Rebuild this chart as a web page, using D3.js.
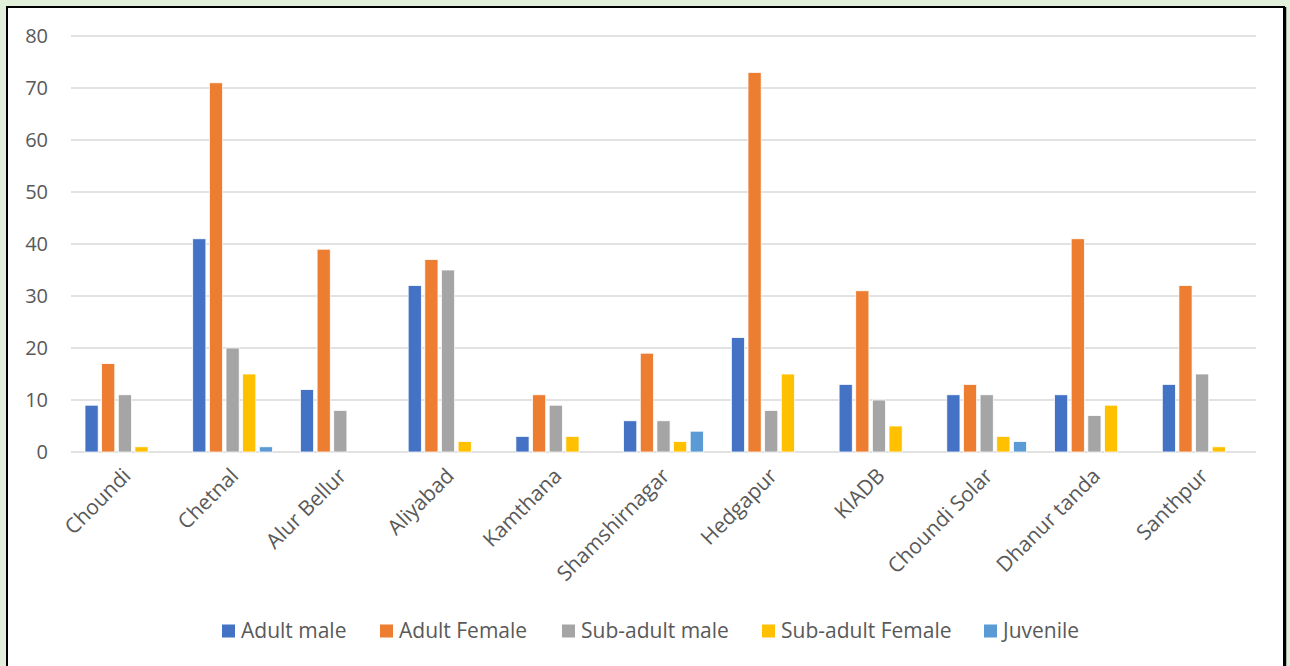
<!DOCTYPE html>
<html>
<head>
<script src="https://cdnjs.cloudflare.com/ajax/libs/d3/7.8.5/d3.min.js"></script>
<style>
  body { margin: 0; background: #e2efda; }
  text { font-family: "Open Sans", sans-serif; fill: #595959; }
</style>
</head>
<body>
<svg id="chart" width="1290" height="666"></svg>
<script>
var sites = ["Choundi", "Chetnal", "Alur Bellur", "Aliyabad", "Kamthana", "Shamshirnagar", "Hedgapur", "KIADB", "Choundi Solar", "Dhanur tanda", "Santhpur"];
var seriesNames = ["Adult male", "Adult Female", "Sub-adult male", "Sub-adult Female", "Juvenile"];
var adultMale = [9, 41, 12, 32, 3, 6, 22, 13, 11, 11, 13];
var adultFemale = [17, 71, 39, 37, 11, 19, 73, 31, 13, 41, 32];
var subAdultMale = [11, 20, 8, 35, 9, 6, 8, 10, 11, 7, 15];
var subAdultFemale = [1, 15, 0, 2, 3, 2, 15, 5, 3, 9, 1];
var juvenile = [0, 1, 0, 0, 0, 4, 0, 0, 2, 0, 0];
var yTicks = [0, 10, 20, 30, 40, 50, 60, 70, 80];
var colors = ["#4472c4", "#ed7d31", "#a5a5a5", "#ffc000", "#5b9bd5"];

var seriesValues = [adultMale, adultFemale, subAdultMale, subAdultFemale, juvenile];

var svg = d3.select("#chart");

// white frame
svg.append("rect").attr("x", 7).attr("y", 7).attr("width", 1277).attr("height", 670)
  .attr("fill", "white").attr("stroke", "black").attr("stroke-width", 2);
svg.append("line").attr("x1", 1285.5).attr("y1", 7).attr("x2", 1285.5).attr("y2", 666)
  .attr("stroke", "black").attr("stroke-width", 1.5);

var plotLeft = 71, plotRight = 1256, plotTop = 36, plotBottom = 452;

var x = d3.scaleBand().domain(sites).range([plotLeft, plotRight]);
var x1 = d3.scaleBand().domain(seriesNames).range([14, x.bandwidth() - 14]).paddingInner(0.21);
var y = d3.scaleLinear().domain([0, 80]).range([plotBottom, plotTop]);

// gridlines
svg.append("g").selectAll("line").data(yTicks).enter().append("line")
  .attr("x1", plotLeft).attr("x2", plotRight)
  .attr("y1", function(d) { return y(d); }).attr("y2", function(d) { return y(d); })
  .attr("stroke", "#d9d9d9").attr("stroke-width", 1.5);

// y labels
svg.append("g").selectAll("text").data(yTicks).enter().append("text")
  .attr("x", 48).attr("y", function(d) { return y(d); })
  .attr("dy", "0.36em").attr("text-anchor", "end")
  .attr("font-size", 20).text(function(d) { return d; });

// bars
var groups = svg.append("g").selectAll("g").data(sites).enter().append("g")
  .attr("transform", function(d) { return "translate(" + x(d) + ",0)"; });

groups.selectAll("rect").data(function(site, i) {
    return seriesNames.map(function(s, j) { return { s: s, v: seriesValues[j][i], c: colors[j] }; });
  }).enter().append("rect")
  .attr("x", function(d) { return x1(d.s); })
  .attr("width", x1.bandwidth())
  .attr("y", function(d) { return y(d.v); })
  .attr("height", function(d) { return plotBottom - y(d.v); })
  .attr("fill", function(d) { return d.c; })
  .attr("stroke", "white").attr("stroke-width", 0.75);

// x labels
svg.append("g").selectAll("text").data(sites).enter().append("text")
  .attr("transform", function(d) { return "translate(" + (x(d) + x.bandwidth() / 2 + 2) + ",472) rotate(-45)"; })
  .attr("text-anchor", "end").attr("dy", "0.35em")
  .attr("font-size", 21).text(function(d) { return d; });

// legend
var legendX = [222, 380, 562, 762, 984];
var legend = svg.append("g").selectAll("g").data(seriesNames).enter().append("g")
  .attr("transform", function(d, i) { return "translate(" + legendX[i] + ",631)"; });
legend.append("rect").attr("x", 0).attr("y", -6.5).attr("width", 13).attr("height", 13)
  .attr("fill", function(d, i) { return colors[i]; });
legend.append("text").attr("x", 19).attr("dy", "0.35em").attr("font-size", 21)
  .text(function(d) { return d; });
</script>
</body>
</html>
